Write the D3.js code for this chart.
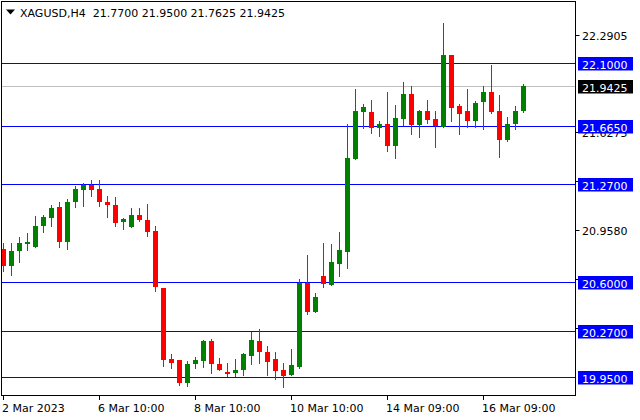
<!DOCTYPE html>
<html><head><meta charset="utf-8">
<script src="https://cdn.jsdelivr.net/npm/d3@7/dist/d3.min.js"></script>
<style>html,body{margin:0;padding:0;background:#fff;}svg{display:block;}</style>
</head><body>
<script>
const symbolTitle = "XAGUSD,H4";
const lastOHLC = ["21.7700", "21.9500", "21.7625", "21.9425"];
const open  = [20.828,20.714,20.812,20.858,20.844,20.981,21.037,21.117,20.878,21.146,
               21.233,21.265,21.240,21.151,21.124,21.008,20.976,21.062,21.028,20.953,
               20.562,20.073,20.066,19.911,20.039,20.061,20.202,20.043,19.989,19.979,
               19.998,20.100,20.202,20.127,20.073,19.998,19.970,20.025,20.594,20.394,
               20.646,20.580,20.723,20.805,21.440,21.761,21.759,21.652,21.677,21.529,
               21.713,21.888,21.672,21.772,21.711,21.663,22.148,21.800,21.772,21.699,
               21.829,21.902,21.766,21.570,21.677,21.7700];
const high  = [20.867,20.867,20.912,20.935,21.049,21.060,21.129,21.146,21.165,21.256,
               21.276,21.295,21.295,21.192,21.185,21.040,21.108,21.108,21.131,20.987,
               20.562,20.107,20.071,20.061,20.088,20.207,20.216,20.080,20.052,20.073,
               20.116,20.262,20.284,20.166,20.127,20.050,20.146,20.624,20.783,20.530,
               20.871,20.858,20.946,21.677,21.916,21.815,21.847,21.704,21.902,21.813,
               21.964,21.943,21.779,21.847,21.766,22.373,22.148,21.820,21.916,21.836,
               21.943,22.086,21.875,21.731,21.800,21.9500];
const low   = [20.675,20.653,20.735,20.817,20.844,20.946,20.987,20.839,20.826,21.112,
               21.119,21.187,21.119,21.044,20.981,20.962,20.976,21.017,20.917,20.539,
               20.027,20.016,19.902,19.895,20.016,20.020,19.984,19.998,19.959,19.959,
               19.970,20.041,20.052,19.970,19.938,19.884,19.970,20.016,20.380,20.394,
               20.571,20.580,20.641,20.696,21.440,21.652,21.617,21.597,21.495,21.447,
               21.672,21.611,21.590,21.686,21.522,21.663,21.699,21.609,21.663,21.663,
               21.645,21.754,21.454,21.563,21.645,21.7625];
const close = [20.714,20.812,20.865,20.873,20.987,21.044,21.110,20.878,21.151,21.240,
               21.265,21.233,21.146,21.124,21.003,21.033,21.062,21.022,20.940,20.566,
               20.066,20.048,19.911,20.043,20.066,20.196,20.039,19.998,19.977,19.998,
               20.107,20.207,20.123,20.054,19.993,19.963,20.032,20.594,20.394,20.498,
               20.589,20.735,20.817,21.445,21.766,21.793,21.652,21.677,21.529,21.718,
               21.888,21.672,21.766,21.706,21.665,22.148,21.788,21.747,21.699,21.827,
               21.902,21.761,21.570,21.677,21.772,21.9425];
const levels = [22.1000, 21.6650, 21.2700, 20.6000, 20.2700, 19.9500];
const currentPrice = 21.9425;
const priceTicks = [22.2905, 21.6275, 21.2930, 20.9580, 20.6245, 20.2910];
const timeTickIndex = [0, 12, 24, 36, 48, 60];
const timeTickLabels = ["2 Mar 2023", "6 Mar 10:00", "8 Mar 10:00", "10 Mar 10:00", "14 Mar 09:00", "16 Mar 09:00"];
const priceDomain = [19.8271, 22.5164];

const W = 640, H = 420;
const L = 1.5, R = 575.5, T = 1.5, B = 395.5;
const FONT = "'DejaVu Sans', Verdana, sans-serif";

const svg = d3.select("body").append("svg").attr("width", W).attr("height", H)
  .style("font-family", FONT).style("font-size", "11px");

const data = open.map((o, i) => ({i, o, h: high[i], l: low[i], c: close[i]}));

const x = d3.scaleLinear().domain([0, data.length - 1]).range([3.5, 3.5 + 8 * (data.length - 1)]);
const y = d3.scaleLinear().domain(priceDomain).range([B, T]);

svg.append("defs").append("clipPath").attr("id", "plot")
  .append("rect").attr("x", L + 0.5).attr("y", T + 0.5).attr("width", R - L - 1).attr("height", B - T - 1);

const plot = svg.append("g").attr("clip-path", "url(#plot)");

// current price line
plot.append("line").attr("x1", L).attr("x2", R)
  .attr("y1", Math.round(y(currentPrice)) + 0.5).attr("y2", Math.round(y(currentPrice)) + 0.5)
  .attr("stroke", "#c0c0c0").attr("stroke-width", 1);

// level lines
plot.selectAll("line.level").data(levels).enter().append("line").attr("class", "level")
  .attr("x1", L).attr("x2", R)
  .attr("y1", d => Math.round(y(d)) + 0.5).attr("y2", d => Math.round(y(d)) + 0.5)
  .attr("stroke", "#0000ff").attr("stroke-width", 1);

const col = d => d.c >= d.o ? "#008000" : "#ff0000";

// wicks
plot.selectAll("line.wick").data(data).enter().append("line").attr("class", "wick")
  .attr("x1", d => x(d.i)).attr("x2", d => x(d.i))
  .attr("y1", d => Math.round(y(d.h))).attr("y2", d => Math.round(y(d.l)) + 1)
  .attr("stroke", col).attr("stroke-width", 1).attr("shape-rendering", "crispEdges");

// bodies
plot.selectAll("rect.body").data(data).enter().append("rect").attr("class", "body")
  .attr("x", d => x(d.i) - 2.5).attr("width", 5)
  .attr("y", d => Math.round(y(Math.max(d.o, d.c))))
  .attr("height", d => Math.max(1, Math.round(y(Math.min(d.o, d.c))) - Math.round(y(Math.max(d.o, d.c)))))
  .attr("fill", col).attr("shape-rendering", "crispEdges");

// frame
svg.append("rect").attr("x", L).attr("y", T).attr("width", R - L).attr("height", B - T)
  .attr("fill", "none").attr("stroke", "#000").attr("stroke-width", 1);

// price axis ticks
const yAxis = svg.append("g");
priceTicks.forEach(p => {
  const yy = Math.round(y(p)) + 0.5;
  yAxis.append("line").attr("x1", R).attr("x2", R + 4).attr("y1", yy).attr("y2", yy).attr("stroke", "#000");
  yAxis.append("text").attr("x", 582).attr("y", yy + 4).attr("fill", "#000").text(p.toFixed(4));
});

// level labels
const labG = svg.append("g");
function priceLabel(p, fill) {
  const yy = Math.round(y(p)) + 0.5;
  labG.append("rect").attr("x", 578).attr("y", yy - 6.5).attr("width", 55).attr("height", 13.5).attr("fill", fill);
  labG.append("text").attr("x", 582).attr("y", yy + 5).attr("fill", "#fff").text(p.toFixed(4));
}
levels.forEach(p => priceLabel(p, "#0000ff"));
priceLabel(currentPrice, "#000000");

// time axis
const xAxis = svg.append("g");
timeTickIndex.forEach((idx, k) => {
  const xx = x(idx);
  xAxis.append("line").attr("x1", xx).attr("x2", xx).attr("y1", B).attr("y2", B + 4.5).attr("stroke", "#000");
  xAxis.append("text").attr("x", xx - 1.5).attr("y", 411.5).attr("fill", "#000").text(timeTickLabels[k]);
});

// header
svg.append("path").attr("d", "M6,9.5 L15,9.5 L10.5,14.5 Z").attr("fill", "#000");
svg.append("text").attr("x", 20).attr("y", 17).attr("fill", "#000").style("white-space", "pre")
  .text(symbolTitle + "  " + lastOHLC.join(" "));
</script>
</body></html>
